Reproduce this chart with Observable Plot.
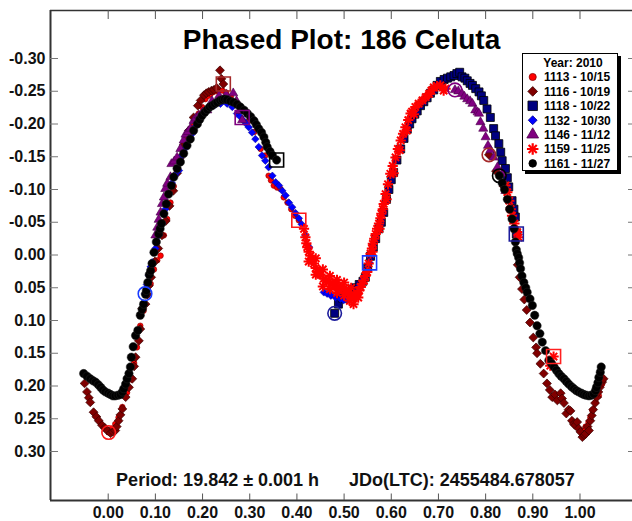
<!DOCTYPE html>
<html><head><meta charset="utf-8">
<script src="https://cdn.jsdelivr.net/npm/d3@7"></script>
<script src="https://cdn.jsdelivr.net/npm/@observablehq/plot@0.6"></script>
<style>
html,body{margin:0;padding:0;background:#fff;}
#wrap{position:relative;width:632px;height:521px;font-family:"Liberation Sans",Arial,sans-serif;}
#legend{position:absolute;left:522px;top:53px;width:94px;height:116px;border:1px solid #000;background:#fff;box-shadow:3px 3px 0 #000;overflow:visible;}
#legend svg{position:absolute;left:0;top:0;overflow:visible;}
</style>
</head><body>
<div id="wrap"><div id="chart"></div><div id="legend"></div></div>
<script>
// ---- text ----
const titleText = "Phased Plot: 186 Celuta";
const footText = "Period: 19.842 \u00B1 0.001 h\u00A0\u00A0\u00A0\u00A0\u00A0\u00A0JDo(LTC): 2455484.678057";
const legendTitle = "Year: 2010";
const sessions = ["1113", "1116", "1118", "1132", "1146", "1159", "1161"];
const sessionLabels = ["1113 - 10/15", "1116 - 10/19", "1118 - 10/22", "1132 - 10/30", "1146 - 11/12", "1159 - 11/25", "1161 - 11/27"];

// ---- ticks ----
const xTicks = [0.0, 0.1, 0.2, 0.3, 0.4, 0.5, 0.6, 0.7, 0.8, 0.9, 1.0];
const xTickLabels = ["0.00", "0.10", "0.20", "0.30", "0.40", "0.50", "0.60", "0.70", "0.80", "0.90", "1.00"];
const yTicks = [-0.30, -0.25, -0.20, -0.15, -0.10, -0.05, 0.00, 0.05, 0.10, 0.15, 0.20, 0.25, 0.30];
const yTickLabels = ["-0.30", "-0.25", "-0.20", "-0.15", "-0.10", "-0.05", "0.00", "0.05", "0.10", "0.15", "0.20", "0.25", "0.30"];

// ---- data: [phase, reduced magnitude] ----
const s1113 = [[0.001,0.271],[0.008,0.265],[0.015,0.258],[0.022,0.248],[0.030,0.232],[0.040,0.210],[0.048,0.190],[0.055,0.165],[0.061,0.141],[0.068,0.108],[0.075,0.085],[0.083,0.062],[0.090,0.044],[0.097,0.022],[0.104,0.008],[0.111,0.001],[0.118,-0.030],[0.125,-0.055],[0.132,-0.080],[0.139,-0.105],[0.146,-0.128],[0.153,-0.148],[0.160,-0.167],[0.167,-0.178],[0.174,-0.188],[0.180,-0.197],[0.185,-0.205],[0.192,-0.216],[0.199,-0.226],[0.206,-0.238],[0.212,-0.243],[0.217,-0.246],[0.222,-0.249],[0.227,-0.250],[0.233,-0.251],[0.242,-0.251],[0.250,-0.248],[0.260,-0.242],[0.272,-0.232],[0.285,-0.220],[0.298,-0.205],[0.310,-0.188],[0.323,-0.162],[0.333,-0.152],[0.340,-0.121],[0.345,-0.114],[0.351,-0.106],[0.358,-0.103],[0.365,-0.101],[0.372,-0.088],[0.380,-0.080],[0.388,-0.070],[0.396,-0.060],[0.404,-0.053],[1.005,0.268],[1.012,0.262],[1.018,0.255],[1.022,0.248],[1.026,0.237],[1.033,0.225],[1.040,0.215],[1.047,0.197]];
const s1116 = [[-0.050,0.196],[-0.045,0.209],[-0.041,0.218],[-0.038,0.225],[-0.031,0.240],[-0.025,0.247],[-0.020,0.253],[-0.013,0.260],[-0.007,0.264],[-0.002,0.268],[0.005,0.272],[0.010,0.270],[0.015,0.268],[0.018,0.262],[0.022,0.253],[0.026,0.244],[0.030,0.235],[0.037,0.217],[0.044,0.202],[0.051,0.189],[0.055,0.170],[0.058,0.156],[0.065,0.131],[0.068,0.113],[0.072,0.082],[0.079,0.075],[0.083,0.060],[0.086,0.047],[0.091,0.034],[0.099,0.010],[0.106,-0.010],[0.114,-0.030],[0.122,-0.052],[0.130,-0.075],[0.138,-0.098],[0.146,-0.125],[0.152,-0.148],[0.160,-0.168],[0.171,-0.190],[0.181,-0.210],[0.190,-0.228],[0.196,-0.236],[0.203,-0.244],[0.208,-0.247],[0.213,-0.249],[0.219,-0.251],[0.224,-0.252],[0.230,-0.255],[0.237,-0.282],[0.240,-0.269],[0.244,-0.261],[0.807,-0.153],[0.822,-0.128],[0.838,-0.105],[0.852,-0.072],[0.862,-0.040],[0.868,0.015],[0.872,0.034],[0.877,0.052],[0.882,0.068],[0.887,0.084],[0.894,0.103],[0.901,0.126],[0.907,0.141],[0.909,0.150],[0.916,0.166],[0.923,0.181],[0.930,0.196],[0.936,0.206],[0.941,0.217],[0.947,0.213],[0.952,0.222],[0.959,0.211],[0.962,0.219],[0.966,0.226],[0.971,0.242],[0.976,0.236],[0.980,0.238],[0.983,0.253],[0.987,0.258],[0.990,0.260],[0.994,0.255],[0.997,0.265],[1.001,0.270],[1.005,0.278],[1.009,0.275],[1.012,0.273],[1.016,0.262],[1.019,0.268],[1.022,0.253],[1.025,0.245],[1.028,0.236],[1.032,0.226],[1.036,0.217],[1.039,0.209],[1.042,0.202],[1.047,0.194],[1.050,0.189]];
const s1118 = [[0.480,0.089],[0.488,0.075],[0.497,0.066],[0.505,0.060],[0.512,0.058],[0.517,0.052],[0.525,0.050],[0.532,0.045],[0.540,0.040],[0.545,0.034],[0.550,0.020],[0.556,0.002],[0.562,-0.012],[0.567,-0.025],[0.574,-0.040],[0.579,-0.050],[0.584,-0.065],[0.590,-0.085],[0.595,-0.100],[0.600,-0.115],[0.605,-0.126],[0.612,-0.145],[0.620,-0.162],[0.627,-0.178],[0.634,-0.192],[0.639,-0.200],[0.644,-0.208],[0.650,-0.215],[0.655,-0.220],[0.662,-0.228],[0.669,-0.234],[0.676,-0.240],[0.683,-0.247],[0.690,-0.252],[0.697,-0.259],[0.704,-0.265],[0.712,-0.268],[0.719,-0.270],[0.726,-0.272],[0.733,-0.274],[0.739,-0.277],[0.745,-0.279],[0.750,-0.272],[0.756,-0.270],[0.761,-0.266],[0.767,-0.262],[0.772,-0.259],[0.779,-0.254],[0.786,-0.249],[0.791,-0.243],[0.796,-0.236],[0.803,-0.223],[0.810,-0.210],[0.817,-0.193],[0.821,-0.182],[0.828,-0.170],[0.832,-0.157],[0.835,-0.144],[0.842,-0.132],[0.846,-0.118],[0.849,-0.104],[0.856,-0.083],[0.860,-0.070],[0.863,-0.058],[0.865,-0.032]];
const s1132 = [[0.078,0.059],[0.082,0.045],[0.086,0.031],[0.090,0.018],[0.093,0.011],[0.097,-0.004],[0.100,-0.010],[0.107,-0.030],[0.114,-0.048],[0.121,-0.070],[0.128,-0.093],[0.135,-0.110],[0.142,-0.122],[0.150,-0.129],[0.153,-0.149],[0.162,-0.162],[0.171,-0.175],[0.178,-0.185],[0.186,-0.197],[0.195,-0.208],[0.205,-0.217],[0.215,-0.224],[0.226,-0.229],[0.238,-0.231],[0.252,-0.231],[0.263,-0.226],[0.273,-0.216],[0.280,-0.211],[0.287,-0.205],[0.293,-0.200],[0.298,-0.195],[0.305,-0.187],[0.312,-0.177],[0.319,-0.165],[0.326,-0.152],[0.333,-0.144],[0.340,-0.134],[0.348,-0.121],[0.355,-0.111],[0.362,-0.106],[0.369,-0.098],[0.376,-0.091],[0.383,-0.080],[0.390,-0.073],[0.397,-0.064],[0.404,-0.056],[0.410,-0.047],[0.418,-0.030],[0.426,-0.012],[0.435,0.008],[0.445,0.030],[0.457,0.057],[0.464,0.059],[0.472,0.062],[0.482,0.065],[0.492,0.067],[0.499,0.069],[0.507,0.068],[0.515,0.064],[0.524,0.058],[0.532,0.048],[0.540,0.038],[0.547,0.026],[0.554,0.012]];
const s1146 = [[0.100,-0.030],[0.104,-0.042],[0.107,-0.054],[0.111,-0.065],[0.114,-0.078],[0.118,-0.088],[0.121,-0.101],[0.125,-0.109],[0.132,-0.119],[0.134,-0.139],[0.140,-0.143],[0.146,-0.149],[0.153,-0.162],[0.160,-0.175],[0.164,-0.184],[0.169,-0.188],[0.174,-0.193],[0.181,-0.205],[0.186,-0.209],[0.192,-0.213],[0.200,-0.218],[0.210,-0.221],[0.220,-0.235],[0.235,-0.243],[0.250,-0.245],[0.265,-0.247],[0.272,-0.235],[0.278,-0.220],[0.284,-0.206],[0.735,-0.252],[0.742,-0.250],[0.750,-0.246],[0.755,-0.242],[0.761,-0.238],[0.767,-0.235],[0.772,-0.231],[0.778,-0.221],[0.783,-0.218],[0.786,-0.216],[0.789,-0.203],[0.795,-0.193],[0.800,-0.180],[0.805,-0.167],[0.810,-0.160],[0.817,-0.149],[0.825,-0.134],[0.835,-0.124],[0.842,-0.098]];
const s1159 = [[0.415,-0.040],[0.418,-0.027],[0.420,-0.018],[0.422,-0.012],[0.425,-0.005],[0.425,0.010],[0.429,0.001],[0.432,0.008],[0.436,0.013],[0.440,0.020],[0.440,0.030],[0.440,0.005],[0.446,0.026],[0.450,0.030],[0.455,0.048],[0.455,0.022],[0.457,0.036],[0.462,0.039],[0.468,0.041],[0.470,0.052],[0.470,0.032],[0.475,0.044],[0.482,0.047],[0.485,0.058],[0.485,0.038],[0.487,0.048],[0.492,0.050],[0.498,0.052],[0.500,0.062],[0.500,0.042],[0.503,0.054],[0.508,0.058],[0.512,0.070],[0.514,0.062],[0.515,0.050],[0.518,0.063],[0.520,0.075],[0.521,0.064],[0.525,0.062],[0.528,0.059],[0.530,0.065],[0.532,0.054],[0.535,0.049],[0.538,0.044],[0.542,0.039],[0.545,0.032],[0.549,0.026],[0.552,0.013],[0.556,-0.002],[0.559,-0.010],[0.560,-0.005],[0.561,-0.017],[0.564,-0.025],[0.567,-0.032],[0.570,-0.040],[0.574,-0.048],[0.575,-0.040],[0.577,-0.056],[0.579,-0.063],[0.582,-0.070],[0.584,-0.078],[0.588,-0.093],[0.590,-0.085],[0.593,-0.108],[0.598,-0.124],[0.603,-0.136],[0.605,-0.125],[0.609,-0.149],[0.614,-0.162],[0.618,-0.160],[0.620,-0.175],[0.625,-0.185],[0.630,-0.195],[0.633,-0.190],[0.636,-0.206],[0.641,-0.216],[0.644,-0.219],[0.648,-0.215],[0.651,-0.226],[0.658,-0.231],[0.666,-0.236],[0.673,-0.241],[0.680,-0.246],[0.685,-0.251],[0.690,-0.256],[0.697,-0.258],[0.704,-0.259],[0.711,-0.251],[0.715,-0.254],[0.842,-0.106],[0.846,-0.096],[0.850,-0.083],[0.853,-0.070],[0.856,-0.060],[0.861,-0.048],[0.867,-0.035],[0.870,-0.027],[0.937,0.169],[0.944,0.155]];
const s1161 = [[-0.052,0.181],[-0.045,0.185],[-0.038,0.189],[-0.032,0.192],[-0.027,0.194],[-0.021,0.198],[-0.016,0.202],[-0.011,0.206],[-0.006,0.209],[0.000,0.211],[0.005,0.213],[0.010,0.215],[0.015,0.215],[0.021,0.214],[0.026,0.213],[0.030,0.209],[0.033,0.204],[0.037,0.197],[0.040,0.189],[0.044,0.181],[0.047,0.171],[0.049,0.156],[0.053,0.140],[0.058,0.123],[0.063,0.115],[0.068,0.092],[0.072,0.083],[0.075,0.075],[0.079,0.060],[0.081,0.054],[0.084,0.042],[0.087,0.030],[0.090,0.024],[0.093,0.013],[0.097,-0.004],[0.102,-0.020],[0.107,-0.032],[0.110,-0.040],[0.113,-0.048],[0.118,-0.063],[0.123,-0.078],[0.128,-0.093],[0.134,-0.106],[0.139,-0.119],[0.146,-0.132],[0.153,-0.142],[0.160,-0.155],[0.167,-0.167],[0.174,-0.177],[0.181,-0.190],[0.189,-0.200],[0.194,-0.207],[0.199,-0.213],[0.205,-0.218],[0.210,-0.222],[0.215,-0.226],[0.220,-0.228],[0.226,-0.231],[0.231,-0.233],[0.237,-0.236],[0.242,-0.237],[0.247,-0.238],[0.252,-0.237],[0.259,-0.235],[0.266,-0.233],[0.273,-0.230],[0.280,-0.226],[0.288,-0.221],[0.295,-0.216],[0.302,-0.211],[0.309,-0.205],[0.314,-0.199],[0.319,-0.193],[0.325,-0.187],[0.330,-0.180],[0.334,-0.172],[0.337,-0.165],[0.343,-0.158],[0.348,-0.152],[0.357,-0.145],[0.829,-0.121],[0.835,-0.110],[0.840,-0.100],[0.846,-0.085],[0.851,-0.070],[0.856,-0.055],[0.860,-0.040],[0.863,-0.020],[0.865,-0.008],[0.867,-0.002],[0.870,0.004],[0.872,0.012],[0.874,0.021],[0.877,0.032],[0.881,0.042],[0.885,0.050],[0.888,0.057],[0.894,0.067],[0.899,0.077],[0.904,0.092],[0.909,0.108],[0.915,0.120],[0.920,0.133],[0.927,0.146],[0.934,0.161],[0.940,0.166],[0.945,0.171],[0.950,0.176],[0.955,0.181],[0.960,0.185],[0.966,0.189],[0.971,0.193],[0.976,0.197],[0.982,0.201],[0.987,0.204],[0.992,0.207],[0.997,0.209],[1.003,0.211],[1.008,0.213],[1.013,0.214],[1.019,0.215],[1.024,0.214],[1.029,0.212],[1.033,0.207],[1.035,0.202],[1.038,0.195],[1.040,0.187],[1.043,0.179],[1.045,0.171]];

// session end markers: [session, phase, mag]
const openCircles = [["1113",0.001,0.271],["1116",0.807,-0.153],["1118",0.480,0.089],["1132",0.078,0.059],["1146",0.735,-0.252],["1161",0.829,-0.121]];
const openSquares = [["1113",0.404,-0.053],["1116",0.244,-0.261],["1118",0.865,-0.032],["1132",0.554,0.012],["1146",0.284,-0.210],["1159",0.944,0.155],["1161",0.357,-0.145]];

// ---- styling ----
const markerColor = {"1113":"#ff1a1a","1116":"#a52a2a","1118":"#1c1c9c","1132":"#1a3cff","1146":"#800080","1159":"#ff2020","1161":"#000000"};
const xDomain = [-0.1223, 1.1113];
const yDomain = [-0.3733, 0.3748];
const W = 632, H = 521, mL = 50, mR = 0, mT = 10, mB = 21;
const fw = W - mL - mR, fh = H - mT - mB;
const xLab = new Map(xTicks.map((v, i) => [v, xTickLabels[i]]));
const yLab = new Map(yTicks.map((v, i) => [v, yTickLabels[i]]));
const P = d => d[0], M = d => d[1];

const chart = Plot.plot({
  width: W, height: H,
  marginLeft: mL, marginRight: mR, marginTop: mT, marginBottom: mB,
  style: {fontFamily: "Liberation Sans, Arial, sans-serif", fontSize: "16px", fontWeight: "bold", color: "#111", background: "#fff"},
  x: {domain: xDomain, ticks: xTicks, tickFormat: d => xLab.get(d), tickSize: 0, tickPadding: 6.5, label: null},
  y: {domain: yDomain, reverse: true, ticks: yTicks, tickFormat: d => yLab.get(d), tickSize: 0, tickPadding: 5, label: null},
  marks: [
    // frame lines
    Plot.ruleX([xDomain[0]], {stroke: "#333", strokeWidth: 2}),
    Plot.ruleY([yDomain[1]], {stroke: "#333", strokeWidth: 2}),
    Plot.ruleY([yDomain[0]], {stroke: "#333", strokeWidth: 1.5}),
    // ticks
    Plot.ruleX(xTicks, {x: d => d, insetTop: fh - 6.5, stroke: "#555"}),
    Plot.ruleX(xTicks, {x: d => d, insetBottom: fh - 9, stroke: "#555"}),
    Plot.ruleY(yTicks, {y: d => d, insetRight: fw - 8, stroke: "#777"}),
    Plot.ruleY(yTicks, {y: d => d, insetLeft: fw - 4, stroke: "#777"}),
    // texts
    Plot.text([titleText], {text: d => d, frameAnchor: "top", lineAnchor: "top", dy: 19, fontSize: 28, fontWeight: "bold", fill: "#000"}),
    Plot.text([footText], {text: d => d, frameAnchor: "bottom", lineAnchor: "top", dy: -27, dx: 4, fontSize: 18, fontWeight: "bold", fill: "#111"}),
    // data
    Plot.dot(s1113, {x: P, y: M, symbol: "circle", r: 2.8, fill: "#ff0000", stroke: "#8b0000", strokeWidth: 0.6}),
    Plot.dot(s1116, {x: P, y: M, symbol: "diamond2", r: 4, fill: "#800000", stroke: "#3a0000", strokeWidth: 0.7}),
    Plot.dot(s1118, {x: P, y: M, symbol: "square", r: 4.5, fill: "#000080", stroke: "#000", strokeWidth: 0.8}),
    Plot.dot(s1132, {x: P, y: M, symbol: "diamond2", r: 3.4, fill: "#0000ff", stroke: "#00008b", strokeWidth: 0.5}),
    Plot.dot(s1146, {x: P, y: M, symbol: "triangle", r: 3.4, fill: "#800080", stroke: "#4a004a", strokeWidth: 0.6}),
    Plot.dot(s1159, {x: P, y: M, symbol: "plus", r: 3.4, fill: "none", stroke: "#ff0000", strokeWidth: 2}),
    Plot.dot(s1159, {x: P, y: M, symbol: "times", r: 3.4, fill: "none", stroke: "#ff0000", strokeWidth: 2}),
    Plot.dot(s1161, {x: P, y: M, symbol: "circle", r: 4.2, fill: "#000", stroke: "#222", strokeWidth: 0.5}),
    // session start/end markers
    Plot.dot(openCircles, {x: d => d[1], y: d => d[2], symbol: "circle", r: 6.8, fill: "none", stroke: d => markerColor[d[0]], strokeWidth: 1.6}),
    Plot.dot(openSquares, {x: d => d[1], y: d => d[2], symbol: "square", r: 7.9, fill: "none", stroke: d => markerColor[d[0]], strokeWidth: 1.6})
  ]
});
document.getElementById("chart").appendChild(chart);

// ---- legend ----
const legendSymbols = [
  {type: d3.symbolCircle, size: 40, fill: "#ff0000", stroke: "#8b0000"},
  {type: d3.symbolDiamond2, size: 60, fill: "#800000", stroke: "#3a0000"},
  {type: d3.symbolSquare, size: 90, fill: "#000080", stroke: "#000"},
  {type: d3.symbolDiamond2, size: 50, fill: "#0000ff", stroke: "#00008b"},
  {type: d3.symbolTriangle, size: 60, fill: "#800080", stroke: "#4a004a"},
  {star: true},
  {type: d3.symbolCircle, size: 45, fill: "#000", stroke: "#000"}
];
const lg = d3.select("#legend").append("svg").attr("width", 94).attr("height", 124)
  .style("font-family", "Liberation Sans, Arial, sans-serif").style("font-weight", "bold").style("font-size", "12px");
lg.append("text").attr("x", 50).attr("y", 12.5).attr("text-anchor", "middle").attr("fill", "#000").text(legendTitle);
sessions.forEach((s, i) => {
  const cy = 23 + i * 14.4;
  const sym = legendSymbols[i];
  if (sym.star) {
    lg.append("path").attr("transform", `translate(9.7,${cy})`).attr("d", d3.symbol(d3.symbolPlus, 45)()).attr("fill", "none").attr("stroke", "#ff0000").attr("stroke-width", 2.2);
    lg.append("path").attr("transform", `translate(9.7,${cy})`).attr("d", d3.symbol(d3.symbolTimes, 45)()).attr("fill", "none").attr("stroke", "#ff0000").attr("stroke-width", 2.2);
  } else {
    lg.append("path").attr("transform", `translate(9.7,${cy})`).attr("d", d3.symbol(sym.type, sym.size)()).attr("fill", sym.fill).attr("stroke", sym.stroke).attr("stroke-width", 0.8);
  }
  lg.append("text").attr("x", 21).attr("y", cy + 4.3).attr("fill", "#000").text(sessionLabels[i]);
});
</script>
</body></html>
